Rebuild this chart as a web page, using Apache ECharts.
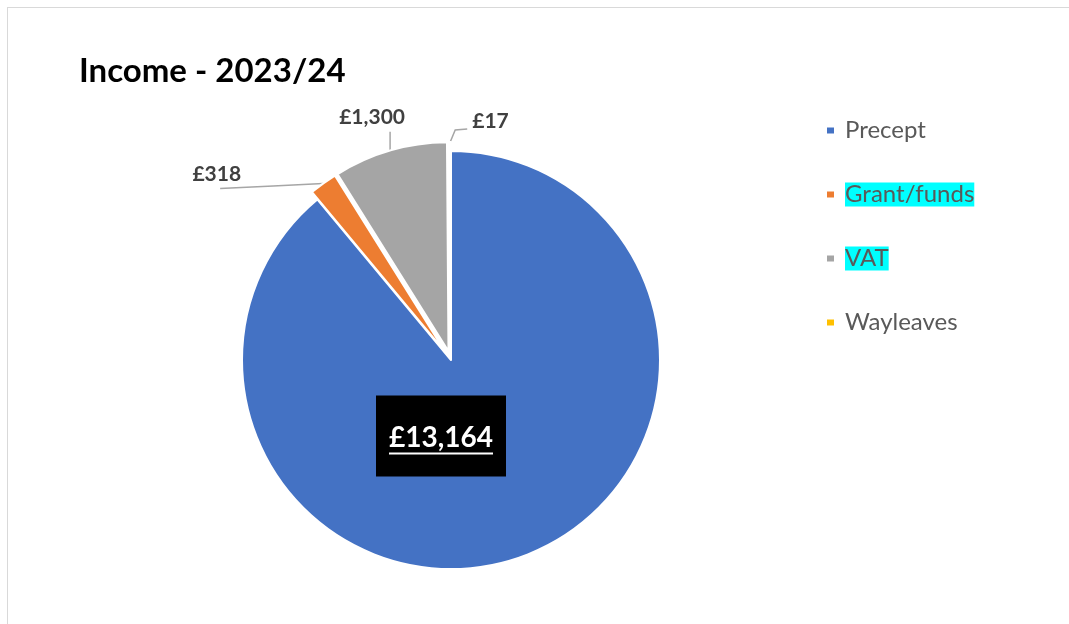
<!DOCTYPE html>
<html><head><meta charset="utf-8">
<script src="https://cdn.jsdelivr.net/npm/echarts@6/dist/echarts.min.js"></script>
<style>
html,body{margin:0;padding:0;background:#fff;overflow:hidden}
#c{position:absolute;left:0;top:0;width:1069px;height:624px}
#frame{position:absolute;left:7px;top:7px;width:1090px;height:650px;border-left:1.5px solid #d9d9d9;border-top:1.5px solid #d9d9d9;pointer-events:none}
</style></head><body>
<div id="c"></div><div id="frame"></div>
<script>
const titleText = 'Income - 2023/24';
const categories = ['Precept', 'Grant/funds', 'VAT', 'Wayleaves'];
const values = [13164, 318, 1300, 17];
const colors = ['#4472C4', '#ED7D31', '#A5A5A5', '#FFC000'];
const highlighted = ['Grant/funds', 'VAT'];
const exploded = [false, true, true, true];

function fmt(v) { return '£' + v.toLocaleString('en-GB'); }

const PIE_CENTER = [451, 360];
const PIE_RADIUS = 209;
const EXPLODE = 9;

const cv = document.createElement('canvas').getContext('2d');
cv.font = 'bold 28px Lato';
const bigW = Math.round(cv.measureText(fmt(values[0])).width);

const chart = echarts.init(document.getElementById('c'), null, {renderer: 'canvas'});

function labelLayout(p) {
  const i = p.dataIndex;
  if (i === 0) {
    const r = p.rect;
    return {x: r.x + r.width / 2 - 10, y: r.y + r.height / 2 + 76, align: 'center', verticalAlign: 'middle'};
  }
  const pts = p.labelLinePoints;
  if (!pts) return {};
  let s = pts[0];
  if (exploded[i]) {
    const dx = s[0] - PIE_CENTER[0], dy = s[1] - PIE_CENTER[1];
    const len = Math.sqrt(dx * dx + dy * dy) || 1;
    s = [s[0] + EXPLODE * dx / len, s[1] + EXPLODE * dy / len];
  }
  if (i === 1) {
    return {x: s[0] - 82, y: s[1] - 9, align: 'right', verticalAlign: 'middle',
      labelLinePoints: [[s[0], s[1]], [s[0] - 50, s[1] + 2.5], [s[0] - 103, s[1] + 5]]};
  }
  if (i === 2) {
    return {x: s[0] - 18, y: s[1] - 33, align: 'center', verticalAlign: 'middle',
      labelLinePoints: [[s[0], s[1]], [s[0], s[1] - 10], [s[0], s[1] - 19]]};
  }
  if (i === 3) {
    return {x: s[0] + 22, y: s[1] - 21, align: 'left', verticalAlign: 'middle',
      labelLinePoints: [[s[0], s[1]], [s[0] + 5, s[1] - 12], [s[0] + 17, s[1] - 13]]};
  }
  return {};
}

const baseSeries = {
  type: 'pie',
  center: PIE_CENTER, radius: PIE_RADIUS,
  startAngle: 90, clockwise: true,
  avoidLabelOverlap: false,
  emphasis: {disabled: true}
};

const option = {
  animation: false,
  backgroundColor: '#fff',
  title: {
    text: titleText, left: 74, top: 50,
    textStyle: {fontFamily: 'Lato', fontWeight: 'bold', fontSize: 33, color: '#000'}
  },
  legend: {
    orient: 'vertical', left: 825, top: 114, itemGap: 31, padding: 0,
    icon: 'rect', itemWidth: 9, itemHeight: 8,
    data: categories.map((n, i) => ({name: n, itemStyle: {color: colors[i]}})),
    formatter: n => (highlighted.includes(n) ? '{s|}{h|' + n + '}' : '{s|}{n|' + n + '}'),
    textStyle: {
      fontFamily: 'Lato', fontSize: 24, color: '#595959', lineHeight: 33,
      rich: {
        s: {width: 5},
        n: {fontFamily: 'Lato', fontSize: 24, color: '#595959', lineHeight: 33},
        h: {fontFamily: 'Lato', fontSize: 24, color: '#595959', lineHeight: 33, backgroundColor: '#00FFFF'}
      }
    },
    selectedMode: false
  },
  series: [
    Object.assign({}, baseSeries, {
      name: 'slices',
      selectedMode: 'multiple', selectedOffset: EXPLODE,
      itemStyle: {borderColor: '#fff', borderWidth: 2},
      label: {show: false},
      labelLine: {show: false},
      data: categories.map((n, i) => ({name: n, value: values[i], selected: exploded[i], itemStyle: {color: colors[i]}}))
    }),
    Object.assign({}, baseSeries, {
      name: 'labels',
      silent: true,
      selectedMode: false,
      itemStyle: {color: 'rgba(0,0,0,0)', borderWidth: 0},
      label: {
        show: true, position: 'outside',
        formatter: p => fmt(p.value),
        color: '#404040', fontFamily: 'Lato', fontWeight: 'bold', fontSize: 21
      },
      labelLine: {show: true, length: 10, length2: 10, lineStyle: {color: '#A6A6A6', width: 1.5}},
      labelLayout: labelLayout,
      data: categories.map((n, i) => {
        const d = {name: n, value: values[i]};
        if (i === 0) {
          d.label = {
            position: 'inside',
            formatter: p => '{t|' + fmt(p.value) + '}\n{u|}',
            backgroundColor: '#000', padding: [28, 13, 21, 13],
            rich: {
              t: {fontFamily: 'Lato', fontWeight: 'bold', fontSize: 28, color: '#fff', lineHeight: 28, align: 'center'},
              u: {width: bigW, height: 2, lineHeight: 4, backgroundColor: '#fff', align: 'center'}
            }
          };
          d.labelLine = {show: false};
        }
        return d;
      })
    })
  ]
};
chart.setOption(option);
</script>
</body></html>
